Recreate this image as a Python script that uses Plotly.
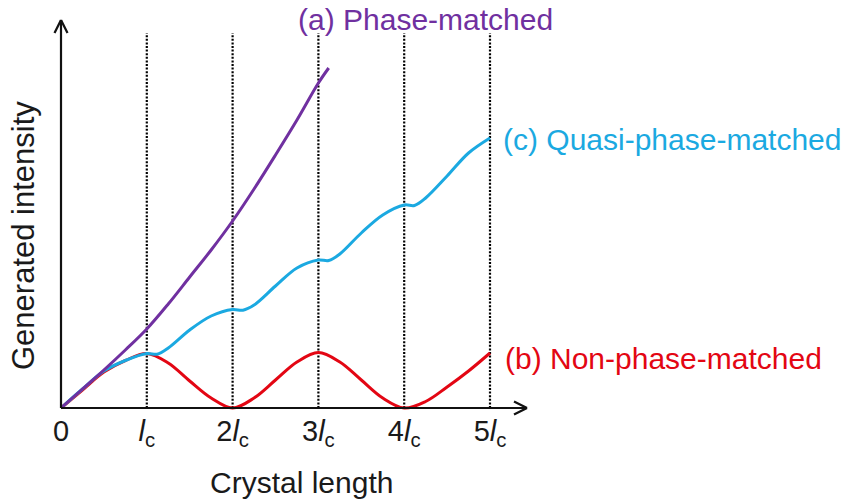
import plotly.graph_objects as go

# Crystal length in units of the coherence length l_c
x_pm = [0, 0.25, 0.5, 0.75, 1, 1.25, 1.5, 1.75, 2, 2.25, 2.5, 2.75, 3, 3.12]
y_pm = [0, 19, 38, 58, 79, 104, 131, 158, 187, 219, 253, 288, 325, 340]

x_npm = [0, 0.25, 0.5, 0.75, 1, 1.25, 1.5, 1.75, 2, 2.25, 2.5, 2.75, 3,
         3.25, 3.5, 3.75, 4, 4.25, 4.5, 4.75, 5]
y_npm = [0, 18, 36, 47.5, 54.5, 45, 27, 10, 0, 10, 28, 46, 55.5,
         46, 28, 10, 0, 6.5, 21, 37, 55]

x_qpm = [0, 0.25, 0.5, 0.75, 1, 1.12, 1.25, 1.5, 1.75, 2, 2.12, 2.25, 2.5,
         2.75, 3, 3.12, 3.25, 3.5, 3.75, 4, 4.12, 4.25, 4.5, 4.75, 5]
y_qpm = [0, 19, 37, 47.5, 54.5, 53.8, 60, 78, 92, 98.5, 97.8, 103, 122,
         140, 148, 147.5, 154, 175, 193, 203, 202.5, 210, 232, 255, 270]

tick_vals = [0, 1, 2, 3, 4, 5]
tick_text = ["0", "<i>l</i><sub>c</sub>", "2<i>l</i><sub>c</sub>",
             "3<i>l</i><sub>c</sub>", "4<i>l</i><sub>c</sub>",
             "5<i>l</i><sub>c</sub>"]

PURPLE = "#7030A0"
BLUE = "#1BA9E1"
RED = "#E30613"
INK = "#1a1a1a"
FONT = "Liberation Sans, Arial, sans-serif"

W, H = 848, 500
X0, Y0 = 61, 408          # pixel position of the origin
UX = 85.8                 # pixels per l_c
UY = 1.0                  # pixels per intensity unit

x_range = [-X0 / UX, (W - X0) / UX]
y_range = [-(H - Y0) / UY, Y0 / UY]

fig = go.Figure()

fig.add_trace(go.Scatter(x=x_npm, y=y_npm, mode="lines",
                         line=dict(color=RED, width=3, shape="spline", smoothing=1.0),
                         hoverinfo="skip"))
fig.add_trace(go.Scatter(x=x_qpm, y=y_qpm, mode="lines",
                         line=dict(color=BLUE, width=3, shape="spline", smoothing=1.0),
                         hoverinfo="skip"))
fig.add_trace(go.Scatter(x=x_pm, y=y_pm, mode="lines",
                         line=dict(color=PURPLE, width=3, shape="spline", smoothing=1.0),
                         hoverinfo="skip"))

shapes = []
# dotted guides at every multiple of l_c
for v in tick_vals[1:]:
    shapes.append(dict(type="line", xref="x", yref="y", x0=v, x1=v, y0=0, y1=375,
                       line=dict(color="#000000", width=2.2, dash="2px,1.6px"), layer="below"))

# axes with open arrowheads
x_tip = (527 - X0) / UX
y_tip = (Y0 - 20) / UY
ax_line = dict(color="#111111", width=2.2)
shapes += [
    dict(type="line", xref="x", yref="y", x0=0, x1=x_tip, y0=0, y1=0, line=ax_line),
    dict(type="line", xref="x", yref="y", x0=x_tip, x1=x_tip - 13 / UX, y0=0, y1=6.5, line=ax_line),
    dict(type="line", xref="x", yref="y", x0=x_tip, x1=x_tip - 13 / UX, y0=0, y1=-6.5, line=ax_line),
    dict(type="line", xref="x", yref="y", x0=0, x1=0, y0=0, y1=y_tip, line=ax_line),
    dict(type="line", xref="x", yref="y", x0=0, x1=6.5 / UX, y0=y_tip, y1=y_tip - 13, line=ax_line),
    dict(type="line", xref="x", yref="y", x0=0, x1=-6.5 / UX, y0=y_tip, y1=y_tip - 13, line=ax_line),
]

def px_x(p):
    return (p - X0) / UX

def px_y(p):
    return (Y0 - p) / UY

annotations = [
    dict(text="(a) Phase-matched", x=px_x(425), y=px_y(19), xref="x", yref="y",
         showarrow=False, xanchor="center", yanchor="middle",
         font=dict(family=FONT, size=30, color=PURPLE)),
    dict(text="(c) Quasi-phase-matched", x=px_x(501), y=px_y(139), xref="x", yref="y",
         showarrow=False, xanchor="left", yanchor="middle",
         font=dict(family=FONT, size=30, color=BLUE)),
    dict(text="(b) Non-phase-matched", x=px_x(503), y=px_y(358), xref="x", yref="y",
         showarrow=False, xanchor="left", yanchor="middle",
         font=dict(family=FONT, size=30, color=RED)),
    dict(text="Crystal length", x=px_x(301), y=px_y(482), xref="x", yref="y",
         showarrow=False, xanchor="center", yanchor="middle",
         font=dict(family=FONT, size=30, color=INK)),
    dict(text="Generated intensity", x=px_x(23), y=px_y(236), xref="x", yref="y",
         showarrow=False, xanchor="center", yanchor="middle", textangle=-90,
         font=dict(family=FONT, size=31, color=INK)),
]

fig.update_layout(
    width=W, height=H,
    margin=dict(l=0, r=0, t=0, b=0),
    paper_bgcolor="white", plot_bgcolor="white",
    showlegend=False,
    shapes=shapes,
    annotations=annotations,
    xaxis=dict(range=x_range, anchor="free", position=(H - Y0) / H,
               showgrid=False, zeroline=False, showline=False, ticks="",
               tickvals=tick_vals, ticktext=tick_text, automargin=False,
               ticklabelstandoff=3,
               tickfont=dict(family=FONT, size=29, color=INK)),
    yaxis=dict(range=y_range, visible=False, automargin=False),
)

fig.write_html("out.html")
